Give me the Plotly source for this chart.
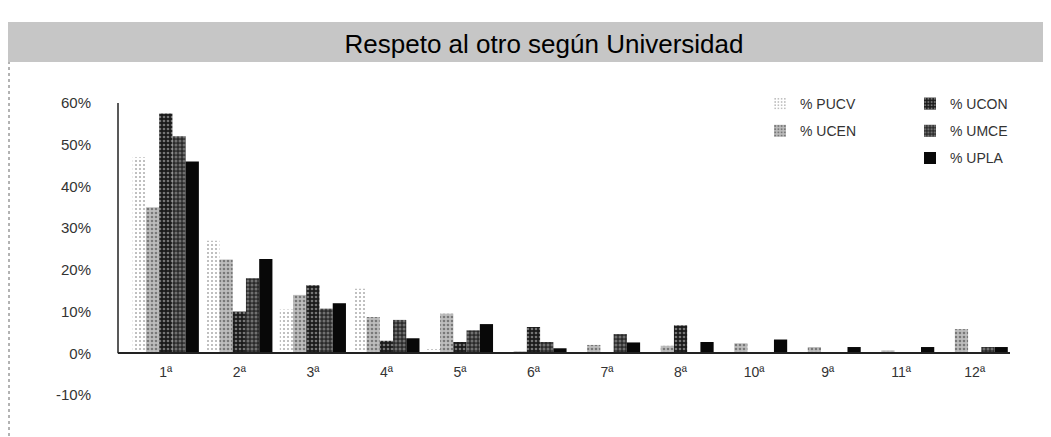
import plotly.graph_objects as go

# ranking positions (order as printed on the chart)
categories = ["1ª", "2ª", "3ª", "4ª", "5ª", "6ª", "7ª", "8ª", "10ª", "9ª", "11ª", "12ª"]

# percentages per university
pucv = [47, 27, 10.5, 15.5, 1, 0.3, 0.3, 0.3, 0.3, 0.3, 0.3, 0.3]
ucen = [35, 22.5, 14, 8.7, 9.5, 0.5, 2, 1.8, 2.4, 1.5, 0.7, 5.8]
ucon = [57.5, 10, 16.3, 3, 2.7, 6.3, 0.3, 6.7, 0.3, 0.3, 0.3, 0.3]
umce = [52, 18, 10.7, 8, 5.5, 2.7, 4.6, 0.3, 0.3, 0.3, 0.3, 1.5]
upla = [46, 22.6, 12, 3.6, 7, 1.2, 2.6, 2.7, 3.3, 1.5, 1.5, 1.5]

y_ticks = [-10, 0, 10, 20, 30, 40, 50, 60]
y_labels = ["-10%", "0%", "10%", "20%", "30%", "40%", "50%", "60%"]

# name, values, background, dot colour, dot solidity, legend
series = [
    ("% PUCV", pucv, "#ffffff", "#555555", 0.2, "legend"),
    ("% UCEN", ucen, "#bdbdbd", "#333333", 0.35, "legend"),
    ("% UCON", ucon, "#1a1a1a", "#d0d0d0", 0.35, "legend2"),
    ("% UMCE", umce, "#2a2a2a", "#b5b5b5", 0.45, "legend2"),
    ("% UPLA", upla, "#080808", "#080808", 0.0, "legend2"),
]

fig = go.Figure()
for name, vals, bg, fg, sol, leg in series:
    marker = dict(color=bg, line=dict(width=0))
    if sol > 0:
        marker["pattern"] = dict(shape=".", fgcolor=fg, bgcolor=bg, size=4, solidity=sol)
    fig.add_trace(go.Bar(x=categories, y=vals, name=name, marker=marker,
                         legend=leg, legendgroup=name))

# the page body adds an 8px offset, so figure coordinates are screen - 8
OFF = 8
W, H = 1051 - OFF, 437 - OFF
L, R, T, B = 118 - OFF, 1010 - OFF, 103 - OFF, 395 - OFF
def px(x):
    return (x - OFF - L) / (R - L)
def py(y):
    return (B - (y - OFF)) / (B - T)

fig.update_layout(
    width=W, height=H,
    margin=dict(l=L, r=W - R, t=T, b=H - B, autoexpand=False),
    paper_bgcolor="white", plot_bgcolor="white",
    barmode="group", bargap=0.1, bargroupgap=0,
    font=dict(family="Liberation Sans, Arial, sans-serif", color="#333333"),
    title=dict(text="Respeto al otro según Universidad",
               x=(544 - OFF) / W, y=1 - (44 - OFF) / H, xanchor="center", yanchor="middle",
               font=dict(family="Liberation Sans Narrow, Liberation Sans, Arial", size=26, color="#000000")),
    xaxis=dict(
        type="category", range=[-0.65, 11.48],
        anchor="free", position=10 / 70,
        showline=True, linecolor="#222222", linewidth=1.5,
        showgrid=False, ticks="", tickfont=dict(size=14, color="#333333"),
        ticklabelstandoff=6,
    ),
    yaxis=dict(
        range=[-10, 60], tickvals=y_ticks, ticktext=y_labels,
        showgrid=False, zeroline=False, showline=False, ticks="",
        tickfont=dict(size=15, color="#333333"), ticklabelstandoff=26,
    ),
    legend=dict(x=px(760), y=py(88), xanchor="left", yanchor="top",
                bgcolor="rgba(0,0,0,0)", tracegroupgap=6,
                font=dict(size=14, color="#333333"), itemwidth=30),
    legend2=dict(x=px(910), y=py(88), xanchor="left", yanchor="top",
                 bgcolor="rgba(0,0,0,0)", tracegroupgap=6,
                 font=dict(size=14, color="#333333"), itemwidth=30),
    shapes=[
        # stippled title band
        dict(type="rect", xref="paper", yref="paper",
             x0=px(8), x1=px(1046), y0=py(62), y1=py(22),
             fillcolor="#c6c6c6", line=dict(width=0), layer="below"),
        # y axis line from 0% to 60%
        dict(type="line", xref="paper", yref="y", x0=0, x1=0, y0=0, y1=60,
             line=dict(color="#222222", width=1.5)),
        # dotted page edge on the left
        dict(type="line", xref="paper", yref="paper", x0=px(9), x1=px(9),
             y0=py(436), y1=py(62), line=dict(color="#666666", width=1, dash="dot")),
    ],
)

fig.write_html("out.html")
